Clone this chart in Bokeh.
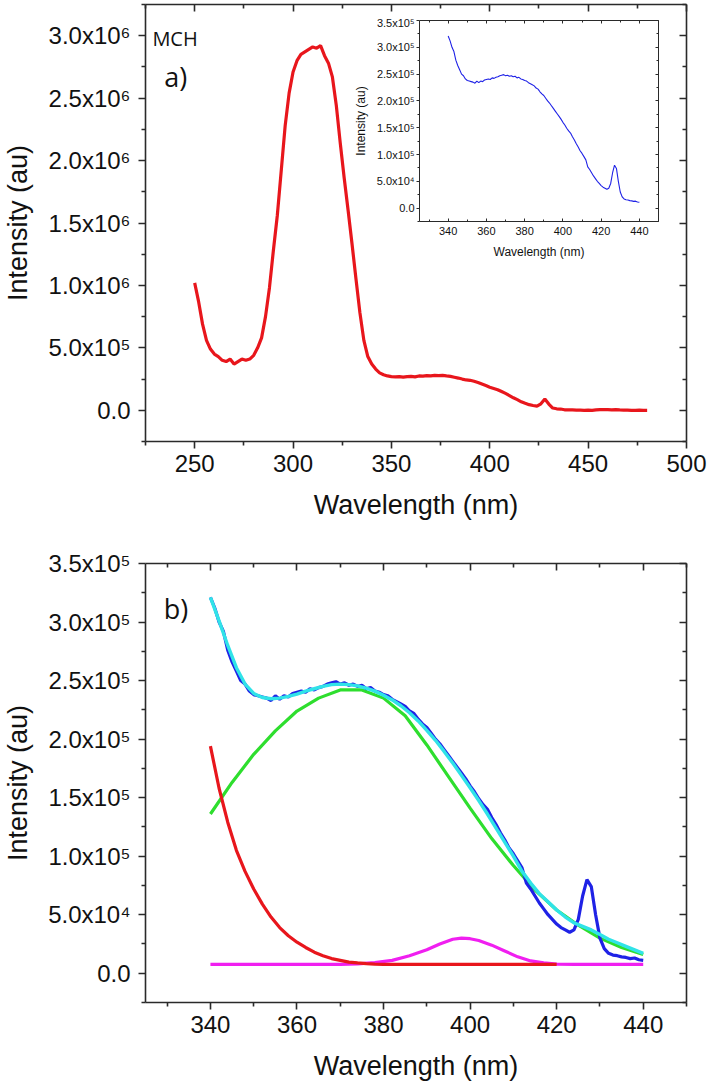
from bokeh.plotting import figure
from bokeh.models import LinearAxis, FixedTicker, Label, Range1d, CustomLabelingPolicy
from bokeh.layouts import column
from bokeh.embed import file_html
from bokeh.resources import INLINE

# ---------------- data ----------------
# panel a) : full emission spectrum (intensity in units of 1e6)
wl_a = list(range(250, 482, 2))
int_a_e6 = [1.02, 0.87, 0.69, 0.56, 0.49, 0.45, 0.43, 0.40, 0.39, 0.41,
            0.37, 0.39, 0.41, 0.40, 0.41, 0.44, 0.50, 0.58, 0.75, 0.98,
            1.28, 1.56, 1.92, 2.28, 2.54, 2.71, 2.80, 2.85, 2.87, 2.89,
            2.91, 2.90, 2.92, 2.84, 2.78, 2.67, 2.44, 2.14, 1.86, 1.60,
            1.33, 1.05, 0.78, 0.56, 0.43, 0.37, 0.33, 0.30, 0.285, 0.275,
            0.27, 0.268, 0.27, 0.265, 0.27, 0.272, 0.268, 0.275, 0.273, 0.278,
            0.276, 0.28, 0.278, 0.279, 0.275, 0.272, 0.265, 0.258, 0.25, 0.243,
            0.24, 0.232, 0.222, 0.21, 0.198, 0.185, 0.175, 0.165, 0.15, 0.135,
            0.118, 0.10, 0.085, 0.068, 0.056, 0.045, 0.038, 0.033, 0.052, 0.09,
            0.05, 0.018, 0.012, 0.01, 0.004, 0.003, 0.003, 0.002, 0.001, 0.0,
            0.001, 0.0, 0.003, 0.005, 0.006, 0.005, 0.004, 0.006, 0.003, 0.002,
            0.001, 0.0, 0.0, 0.001, 0.0, 0.0]
int_a = [v * 1e6 for v in int_a_e6]

# panel b) / inset : emission 340-440 nm (intensity in units of 1e5)
wl_b = list(range(340, 441))
int_b_e5 = [3.21, 3.12, 3.00, 2.92, 2.76, 2.66, 2.58, 2.50, 2.47, 2.41,
            2.38, 2.37, 2.36, 2.35, 2.33, 2.37, 2.34, 2.37, 2.36, 2.39,
            2.40, 2.41, 2.40, 2.43, 2.42, 2.44, 2.45, 2.47, 2.48, 2.49,
            2.47, 2.48, 2.46, 2.47, 2.45, 2.46, 2.43, 2.44, 2.41, 2.40,
            2.38, 2.37, 2.34, 2.32, 2.30, 2.28, 2.24, 2.22, 2.17, 2.13,
            2.10, 2.05, 2.00, 1.96, 1.91, 1.86, 1.81, 1.76, 1.71, 1.66,
            1.60, 1.55, 1.49, 1.44, 1.40, 1.33, 1.27, 1.20, 1.14, 1.07,
            1.02, 0.96, 0.90, 0.77, 0.72, 0.66, 0.60, 0.55, 0.50, 0.46,
            0.42, 0.39, 0.37, 0.35, 0.37, 0.46, 0.66, 0.80, 0.74, 0.50,
            0.30, 0.21, 0.17, 0.155, 0.15, 0.14, 0.135, 0.125, 0.13, 0.115,
            0.11]
int_b = [v * 1e5 for v in int_b_e5]

# cumulative fit (cyan)
wl_fit = list(range(340, 441, 2))
fit_e5 = [3.21, 3.01, 2.80, 2.61, 2.47, 2.39, 2.355, 2.345, 2.35, 2.365,
          2.385, 2.41, 2.43, 2.45, 2.465, 2.47, 2.465, 2.455, 2.435, 2.41,
          2.375, 2.335, 2.285, 2.225, 2.155, 2.075, 1.99, 1.895, 1.795, 1.69,
          1.585, 1.475, 1.36, 1.24, 1.12, 1.00, 0.87, 0.77, 0.68, 0.61,
          0.54, 0.48, 0.43, 0.40, 0.37, 0.33, 0.29, 0.26, 0.23, 0.20,
          0.17]
fit = [v * 1e5 for v in fit_e5]

# green gaussian component
wl_green = list(range(340, 441, 5))
green_e5 = [1.36, 1.63, 1.87, 2.07, 2.24, 2.35, 2.42, 2.42, 2.35, 2.20,
            1.95, 1.68, 1.41, 1.15, 0.92, 0.71, 0.54, 0.41, 0.30, 0.22,
            0.16]
green = [v * 1e5 for v in green_e5]

# red (short-wavelength) component
wl_red = [340, 342, 344, 346, 348, 350, 352, 354, 356, 358, 360, 362, 364,
          366, 368, 370, 372, 374, 376, 378, 380, 420]
red_e5 = [1.94, 1.58, 1.29, 1.05, 0.87, 0.72, 0.59, 0.48, 0.39, 0.32, 0.265,
          0.22, 0.18, 0.15, 0.125, 0.11, 0.095, 0.088, 0.082, 0.078, 0.076,
          0.075]
red = [v * 1e5 for v in red_e5]

# magenta component
wl_mag = [340, 370, 374, 378, 382, 386, 390, 393, 396, 398, 400, 402, 405,
          408, 411, 414, 417, 420, 424, 440]
mag_e5 = [0.075, 0.075, 0.08, 0.09, 0.11, 0.15, 0.20, 0.25, 0.29, 0.30,
          0.295, 0.28, 0.24, 0.19, 0.14, 0.105, 0.088, 0.078, 0.075, 0.075]
mag = [v * 1e5 for v in mag_e5]

# ticks
xt_a = [250, 300, 350, 400, 450, 500]
xm_a = [225, 275, 325, 375, 425, 475]
yt_a = [0, 500000, 1000000, 1500000, 2000000, 2500000, 3000000]
ym_a = [-250000, 250000, 750000, 1250000, 1750000, 2250000, 2750000, 3250000]
yl_a = ["0.0", "5.0x10\u2075", "1.0x10\u2076", "1.5x10\u2076", "2.0x10\u2076",
        "2.5x10\u2076", "3.0x10\u2076"]

xt_b = [340, 360, 380, 400, 420, 440]
xm_b = [330, 350, 370, 390, 410, 430, 450]
yt_b = [0, 50000, 100000, 150000, 200000, 250000, 300000, 350000]
ym_b = [-25000, 25000, 75000, 125000, 175000, 225000, 275000, 325000]
yl_b = ["0.0", "5.0x10\u2074", "1.0x10\u2075", "1.5x10\u2075", "2.0x10\u2075",
        "2.5x10\u2075", "3.0x10\u2075", "3.5x10\u2075"]

# ---------------- style ----------------
AX = "#2a2a2a"
TF = "Liberation Sans"
LF = "Open Sans"
RED = "#e8161c"
BLUE = "#1f22e6"
CYAN = "#30e3e8"
GREEN = "#2ede2e"
MAG = "#f01ff0"


def setup(p, xt, xm, yt, ym, yl, xtitle, ytitle, tick_fs, title_fs, maj, mnr,
          lw, x_in=False, xlab_sto=6, ylab_sto=8, x_title_sto=15, y_title_sto=12):
    p.grid.visible = False
    p.outline_line_color = None
    for ax in (p.xaxis[0], p.yaxis[0]):
        ax.axis_line_color = AX
        ax.axis_line_width = lw
        ax.major_tick_line_color = AX
        ax.minor_tick_line_color = AX
        ax.major_tick_line_width = lw
        ax.minor_tick_line_width = lw
        ax.major_label_text_font = TF
        ax.major_label_text_font_size = tick_fs
        ax.major_label_text_color = "#111111"
        ax.axis_label_text_font = TF
        ax.axis_label_text_font_size = title_fs
        ax.axis_label_text_font_style = "normal"
        ax.axis_label_text_color = "#111111"
    xa = p.xaxis[0]
    ya = p.yaxis[0]
    xa.major_label_standoff = xlab_sto
    ya.major_label_standoff = ylab_sto
    xa.ticker = FixedTicker(ticks=xt, minor_ticks=xm)
    ya.ticker = FixedTicker(ticks=yt, minor_ticks=ym)
    ya.major_label_overrides = {t: s for t, s in zip(yt, yl)}
    xa.axis_label = xtitle
    ya.axis_label = ytitle
    xa.axis_label_standoff = x_title_sto
    ya.axis_label_standoff = y_title_sto
    if x_in:
        xa.major_tick_in, xa.major_tick_out = maj, 0
        xa.minor_tick_in, xa.minor_tick_out = mnr, 0
    else:
        xa.major_tick_in, xa.major_tick_out = 0, maj
        xa.minor_tick_in, xa.minor_tick_out = 0, mnr
    ya.major_tick_in, ya.major_tick_out = 0, maj
    ya.minor_tick_in, ya.minor_tick_out = 0, mnr
    for loc, tk, mt in (("above", xt, xm), ("right", yt, ym)):
        a = LinearAxis(ticker=FixedTicker(ticks=tk, minor_ticks=mt),
                       major_label_policy=CustomLabelingPolicy(code="return new Set()"),
                       major_label_text_font_size="1px", major_label_standoff=0,
                       major_tick_in=maj, major_tick_out=0,
                       minor_tick_in=mnr, minor_tick_out=0,
                       axis_line_color=AX, axis_line_width=lw,
                       major_tick_line_color=AX, minor_tick_line_color=AX,
                       major_tick_line_width=lw, minor_tick_line_width=lw)
        p.add_layout(a, loc)


# ---------------- panel a ----------------
p1 = figure(width=708, height=540, x_range=Range1d(225, 500),
            y_range=Range1d(-250000, 3250000), output_backend="svg",
            toolbar_location=None, min_border_left=143, min_border_right=22,
            min_border_top=1, min_border_bottom=99)
setup(p1, xt_a, xm_a, yt_a, ym_a, yl_a, "Wavelength (nm)", "Intensity (au)",
      "24px", "27px", 7, 4, 1.6)
p1.line(wl_a, int_a, line_color=RED, line_width=3.2)
p1.add_layout(Label(x=228.5, y=2980000, text="MCH", text_font=LF,
                    text_font_size="20px", text_color="#111111",
                    text_baseline="alphabetic"))
p1.add_layout(Label(x=234.5, y=2675000, text="a)", text_font=LF,
                    text_font_size="27px", text_color="#111111",
                    text_baseline="alphabetic"))

# ---------------- panel b ----------------
p2 = figure(width=708, height=547, x_range=Range1d(325, 450),
            y_range=Range1d(-25000, 350000), output_backend="svg",
            toolbar_location=None, min_border_left=143, min_border_right=22,
            min_border_top=23, min_border_bottom=85)
setup(p2, xt_b, xm_b, yt_b, ym_b, yl_b, "Wavelength (nm)", "Intensity (au)",
      "24px", "27px", 7, 4, 1.6)
p2.line(wl_green, green, line_color=GREEN, line_width=3.2)
p2.line(wl_b, int_b, line_color=BLUE, line_width=3.2)
p2.line(wl_fit, fit, line_color=CYAN, line_width=3.4)
p2.line(wl_mag, mag, line_color=MAG, line_width=3.2)
p2.line(wl_red, red, line_color=RED, line_width=3.2)
p2.add_layout(Label(x=329.2, y=311300, text="b)", text_font=LF,
                    text_font_size="27px", text_color="#111111",
                    text_baseline="alphabetic"))

# ---------------- inset ----------------
pin = figure(width=315, height=245, x_range=Range1d(325, 450),
             y_range=Range1d(-25000, 350000), output_backend="svg",
             toolbar_location=None, min_border_left=62, min_border_right=4,
             min_border_top=4, min_border_bottom=40,
             background_fill_alpha=0, border_fill_alpha=0)
setup(pin, xt_b, xm_b, yt_b, ym_b, yl_b, "Wavelength (nm)", "Intensity (au)",
      "11px", "12px", 3, 2, 1.0, x_in=True, xlab_sto=5, ylab_sto=2,
      x_title_sto=7, y_title_sto=6)
pin.line(wl_b, int_b, line_color=BLUE, line_width=1.1)
pin.styles = {"position": "absolute", "left": "350px", "top": "16px",
              "width": "315px", "height": "245px"}

layout = column(p1, p2)
open("out.html", "w").write(file_html([layout, pin], INLINE))
